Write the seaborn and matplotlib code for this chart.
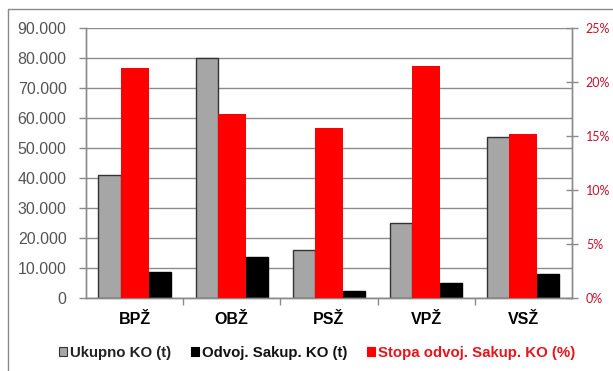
import matplotlib
matplotlib.use("Agg")
import matplotlib.pyplot as plt
from matplotlib.patches import Patch
from matplotlib.lines import Line2D
from matplotlib.ticker import FuncFormatter, FixedLocator
import numpy as np
import pandas as pd
import seaborn as sns

# Regions and their values
regions = ["BPŽ", "OBŽ", "PSŽ", "VPŽ", "VSŽ"]
ukupno_ko = [41000, 80000, 15900, 25000, 53600]        # tonnes
odvoj_sakup_ko = [8600, 13600, 2300, 5000, 8100]       # tonnes
stopa_odvoj = [21.3, 17.0, 15.7, 21.5, 15.2]            # percent

left_ticks = [0, 10000, 20000, 30000, 40000, 50000, 60000, 70000, 80000, 90000]
right_ticks = [0, 5, 10, 15, 20, 25]

legend_labels = ["Ukupno KO (t)", "Odvoj. Sakup. KO (t)", "Stopa odvoj. Sakup. KO (%)"]

GRAY = "#a6a6a6"
RED = "#ff0000"
AXIS_GRAY = "#8a8a8a"

sns.set_theme(style="white")
plt.rcParams["font.family"] = ["Liberation Sans", "DejaVu Sans"]

fig = plt.figure(figsize=(6.13, 3.71), dpi=100)
fig.patch.set_facecolor("white")
ax = fig.add_axes([86 / 613, 1 - 298 / 371, 486 / 613, 270 / 371])
ax2 = ax.twinx()

pos = np.arange(len(regions))
df = pd.DataFrame({
    "pos": pos,
    "region": regions,
    "ukupno": ukupno_ko,
    "odvoj": odvoj_sakup_ko,
    "stopa": stopa_odvoj,
})

# Primary axis: totals (left) and separately collected (right) in tonnes
sns.barplot(x=df["pos"] - 0.258, y=df["ukupno"], ax=ax, native_scale=True,
            width=0.23, color=GRAY, saturation=1, errorbar=None,
            edgecolor="#333333", linewidth=1.0, zorder=2)
sns.barplot(x=df["pos"] + 0.256, y=df["odvoj"], ax=ax, native_scale=True,
            width=0.23, color="black", saturation=1, errorbar=None,
            edgecolor="black", linewidth=1.0, zorder=2)
# Secondary axis: separate collection rate
sns.barplot(x=df["pos"], y=df["stopa"], ax=ax2, native_scale=True,
            width=0.29, color=RED, saturation=1, errorbar=None,
            linewidth=0, zorder=3)

for a in (ax, ax2):
    a.set_xlim(-0.5, len(regions) - 0.5)
    a.set_xlabel("")
    a.set_ylabel("")

# Left axis
ax.set_ylim(0, 90000)
ax.yaxis.set_major_locator(FixedLocator(left_ticks))
ax.yaxis.set_major_formatter(FuncFormatter(lambda v, p: f"{int(v):,}".replace(",", ".")))
ax.tick_params(axis="y", which="major", direction="out", length=5, width=1,
               color=AXIS_GRAY, labelsize=11.5, labelcolor="#555555", pad=9,
               left=True)
ax.grid(axis="y", color="#8c8c8c", linewidth=1.0, zorder=0)
ax.set_axisbelow(True)

# Category axis
ax.set_xticks(pos)
ax.set_xticklabels(regions, fontsize=11.5, fontweight="bold", color="black")
ax.xaxis.set_minor_locator(FixedLocator(np.arange(0.5, len(regions) - 1, 1.0)))
ax.tick_params(axis="x", which="major", length=0, pad=10)
ax.tick_params(axis="x", which="minor", direction="out", length=5, width=1,
               color=AXIS_GRAY, bottom=True)

# Right axis
ax2.set_ylim(0, 25)
ax2.yaxis.set_major_locator(FixedLocator(right_ticks))
ax2.yaxis.set_major_formatter(FuncFormatter(lambda v, p: f"{int(v)}%"))
ax2.tick_params(axis="y", which="major", direction="inout", length=8, width=1,
                color=AXIS_GRAY, labelsize=9, labelcolor="#c8102e", pad=6,
                right=True)
for lbl in ax2.get_yticklabels():
    lbl.set_fontfamily(["Lato", "DejaVu Sans"])
ax2.grid(False)
ax2.patch.set_visible(False)

for a in (ax, ax2):
    for side in ("left", "right", "bottom"):
        a.spines[side].set_color(AXIS_GRAY)
        a.spines[side].set_linewidth(1.0)
    a.spines["top"].set_visible(False)

# Legend below the plot
handles = [
    Patch(facecolor=GRAY, edgecolor="#333333", linewidth=0.8),
    Patch(facecolor="black", edgecolor="black", linewidth=0.8),
    Patch(facecolor=RED, edgecolor=RED, linewidth=0.8),
]
leg = fig.legend(handles, legend_labels, loc="center",
                 bbox_to_anchor=(317 / 613, 1 - 353 / 371), ncol=3,
                 frameon=False, prop={"size": 10.8, "weight": "bold"},
                 handlelength=0.55, handleheight=0.55, handletextpad=0.2,
                 columnspacing=1.3, borderaxespad=0, borderpad=0)
for txt, col in zip(leg.get_texts(), ["#222222", "#111111", "#e8141c"]):
    txt.set_color(col)

# Chart frame (left and top edges)
fig.add_artist(Line2D([8 / 613, 8 / 613], [0, 1 - 9 / 371],
                      transform=fig.transFigure, color=AXIS_GRAY, linewidth=1.0))
fig.add_artist(Line2D([8 / 613, 1], [1 - 9 / 371, 1 - 9 / 371],
                      transform=fig.transFigure, color=AXIS_GRAY, linewidth=1.0))

fig.savefig("out.png", dpi=100, facecolor="white")
